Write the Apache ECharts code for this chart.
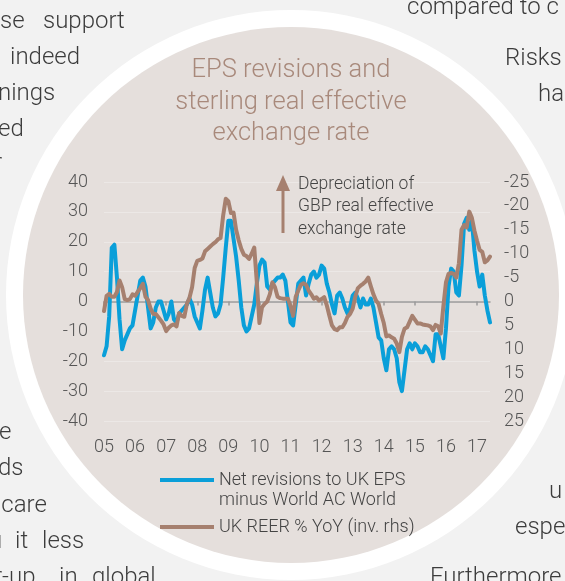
<!DOCTYPE html>
<html>
<head>
<meta charset="utf-8">
<script src="https://cdn.jsdelivr.net/npm/echarts@6/dist/echarts.min.js"></script>
<style>
html,body{margin:0;padding:0;background:#f2f2f2;}
#chart{width:565px;height:581px;}
</style>
</head>
<body>
<div id="chart"></div>
<script>
// ---- data ----
var months = [];
for (var yy = 2005; yy <= 2017; yy++) {
  for (var mm = 1; mm <= 12; mm++) {
    if (yy === 2017 && mm > 6) break;
    months.push(yy + '-' + (mm < 10 ? '0' + mm : mm));
  }
}
var epsRevisions = [
  -18,-15,-5,18,19,8,-6,-16,-13,-11,-9,-8,
  -3,2,7,8,5,-2,-9,-7,-2,0,0,-3,
  -6,-4,0,-6,-7,-4,-3,-2,-1,1,-1,-5,
  -7,-9,-3,4,8,3,-2,-5,-4,-1,8,18,
  27,27,21,15,7,-2,-8,-10,-9,-5,-1,6,
  12,14,13,5,4,6,7,8,8,9,7,0,
  -7,-8,-1,6,7,8,2,6,9,10,8,9,
  12,11,6,3,-1,-4,2,3,1,-2,-4,-2,
  2,3,1,-2,1,-1,-1,1,-2,-7,-12,-13,
  -19,-23,-16,-15,-16,-19,-27,-30,-23,-16,-14,-16,
  -14,-15,-17,-17,-15,-16,-18,-20,-11,-11,-15,-19,
  -9,5,11,10,3,2,12,26,28,24,27,17,
  10,5,9,2,-3,-7
];
var reerYoY = [
  2,-1.2,-1.6,-1,-1,-2,-4.4,-3,-0.5,-0.3,-0.5,-1.5,
  -1.2,-2,-2.8,-3.7,-1,-0.3,1.5,2.6,2.6,3.3,4,4.8,
  6.2,5.5,5,4.8,5.2,2.4,3,3.2,0.5,-0.8,-3,-7,
  -8.5,-8.7,-9,-10.5,-11,-11.5,-12,-12.4,-13,-13.3,-18,-21.5,
  -21,-18.5,-18.6,-15,-12.8,-11,-9.8,-9.5,-8.9,-10,-11.3,-4,
  4.5,1.2,0.5,0,-1.5,-4,-3,-1,-0.7,-0.6,-0.6,-0.6,
  1,3,-1,-2.3,-3.5,-3.8,-3.5,-2.3,-1.5,-0.6,-0.9,-0.2,
  -0.5,-0.9,0.8,3,5,5.8,6,5.4,5.4,4.5,3.2,2.6,
  1.5,-1,-2.8,-3.3,-3.7,-4.2,-5,-3.2,-1.5,-0.2,0.5,2.6,
  4.5,7.3,7.1,7.5,7.8,8.8,10.6,7.4,5.7,5.4,4.2,3,
  3.8,4.6,4.6,4.8,4.9,5,5.2,6,4.9,5.2,6.7,1,
  -4,-5.8,-6,-5.8,-5,-8,-15,-16,-15.5,-18.8,-17.5,-14.8,
  -12.7,-10.8,-10.4,-8.2,-8.6,-9.4
];
var leftTicks = {min: -40, max: 40, interval: 10};
var rightTicks = {min: -25, max: 25, interval: 5};
var seriesNames = ['Net revisions to UK EPS\nminus World AC World', 'UK REER % YoY (inv. rhs)'];
var titleLines = 'EPS revisions and\nsterling real effective\nexchange rate';
var noteText = 'Depreciation of\nGBP real effective\nexchange rate';
var bodyTexts = [
  ['se', 0, 20], ['support', 43, 20], ['indeed', 10, 56], ['nings', -2, 92], ['ed', -2, 128], ['r', -6, 162],
  ['e', -1, 431], ['ds', -2, 467], ['ıcare', -4, 504], ['ı', -3, 540], ['it', 15, 540], ['less', 42, 540],
  ['r-up', -6, 576], ['in', 59, 576], ['global', 92, 576],
  ['compared to c', 407, 6], ['Risks', 505, 57], ['ha', 538, 93], ['u', 549, 490], ['espe', 515, 526], ['Furthermore', 430, 576]
];

// ---- chart ----
var FONT = 'Roboto, "Liberation Sans", sans-serif';
var BLUE = '#0a9fd9';
var BROWN = '#a6806f';
var CX = 291, CY = 295;
var chart = echarts.init(document.getElementById('chart'), null, {renderer: 'canvas'});

var graphics = [];
bodyTexts.forEach(function (t) {
  graphics.push({type: 'text', left: t[1], top: t[2] - 10, z: -30,
    style: {text: t[0], fill: '#3c3c3c', font: '300 24px ' + FONT}});
});
graphics.push({type: 'circle', shape: {cx: CX, cy: CY, r: 285}, style: {fill: '#ffffff'}, z: -20});
graphics.push({type: 'circle', shape: {cx: CX, cy: CY, r: 268}, style: {fill: '#e5dfdc'}, z: -10});
graphics.push({type: 'text', x: 291, y: 55, z: -5,
  style: {text: titleLines, fill: '#a8897b', font: '300 25.5px ' + FONT, align: 'center', lineHeight: 31.5}});
graphics.push({type: 'line', shape: {x1: 283, y1: 233, x2: 283, y2: 188}, z: 1,
  style: {stroke: BROWN, lineWidth: 3}});
graphics.push({type: 'polygon', shape: {points: [[283, 175], [276, 191], [290, 191]]}, z: 1,
  style: {fill: BROWN}});
graphics.push({type: 'text', x: 298, y: 173, z: 1,
  style: {text: noteText, fill: '#444444', font: '300 17.5px ' + FONT, lineHeight: 22.7}});

var iconTop = 'path://M0,0h54v4h-54z M0,23.99h0.01v0.01h-0.01z';
var iconMid = 'path://M0,0h0.01v0.01h-0.01z M0,10h54v4h-54z M0,23.99h0.01v0.01h-0.01z';

var option = {
  backgroundColor: '#f2f2f2',
  animation: false,
  graphic: graphics,
  grid: {left: 104, right: 75, top: 182, bottom: 160, containLabel: false},
  legend: {
    left: 155, top: 465, orient: 'vertical',
    itemWidth: 54, itemHeight: 24, itemGap: 5, selectedMode: false,
    itemStyle: {borderWidth: 0},
    textStyle: {fontFamily: FONT, fontWeight: 300, fontSize: 18, color: '#444', lineHeight: 20},
    data: [
      {name: seriesNames[0], icon: iconTop},
      {name: seriesNames[1], icon: iconMid}
    ]
  },
  xAxis: [
    {
      type: 'category', data: months, boundaryGap: false, position: 'bottom',
      axisLine: {show: false, onZero: false}, axisTick: {show: false},
      splitLine: {show: false},
      axisLabel: {
        margin: 17, fontFamily: FONT, fontWeight: 300, fontSize: 18, color: '#555',
        interval: function (i, v) { return v.slice(5) === '01'; },
        formatter: function (v) { return v.slice(2, 4); }
      }
    },
    {
      type: 'category', data: months, boundaryGap: false, position: 'bottom',
      axisLine: {show: true, onZero: true, onZeroAxisIndex: 0, lineStyle: {color: '#9a9a9a', width: 1.5}},
      axisTick: {show: true, length: 4, lineStyle: {color: '#9a9a9a', width: 1.5},
        interval: function (i, v) { return v.slice(5) === '01'; }},
      axisLabel: {show: false}, splitLine: {show: false}
    }
  ],
  yAxis: [
    {
      type: 'value', min: leftTicks.min, max: leftTicks.max, interval: leftTicks.interval,
      axisLine: {show: false}, axisTick: {show: false},
      splitLine: {show: true, lineStyle: {color: '#ece8e6', width: 1}},
      axisLabel: {margin: 16, fontFamily: FONT, fontWeight: 300, fontSize: 18, color: '#555'}
    },
    {
      type: 'value', min: rightTicks.min, max: rightTicks.max, interval: rightTicks.interval, inverse: true,
      position: 'right',
      axisLine: {show: false}, axisTick: {show: false}, splitLine: {show: false},
      axisLabel: {margin: 14, fontFamily: FONT, fontWeight: 300, fontSize: 18, color: '#555'}
    }
  ],
  series: [
    {
      name: seriesNames[0], type: 'line', data: epsRevisions, xAxisIndex: 0, yAxisIndex: 0,
      showSymbol: false, color: BLUE,
      lineStyle: {width: 4, color: BLUE, cap: 'round', join: 'round'}
    },
    {
      name: seriesNames[1], type: 'line', data: reerYoY, xAxisIndex: 0, yAxisIndex: 1,
      showSymbol: false, color: BROWN,
      lineStyle: {width: 4, color: BROWN, cap: 'round', join: 'round'}
    }
  ]
};
chart.setOption(option);
</script>
</body>
</html>
